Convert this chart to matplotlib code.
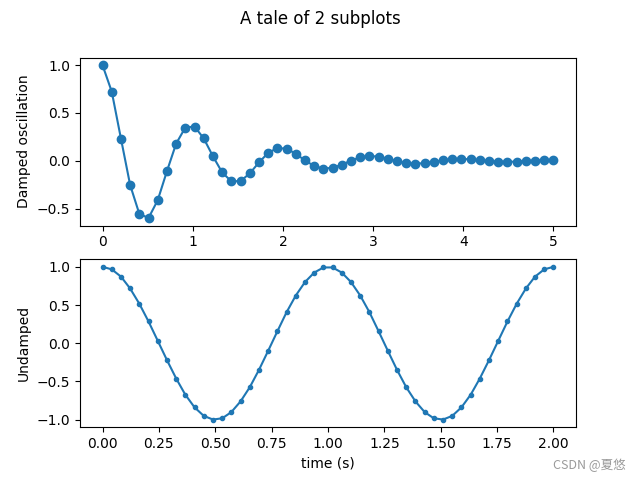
import matplotlib

matplotlib.use("Agg")
import matplotlib.pyplot as plt

# values (50 samples per panel)
x_damped = [
    0.000, 0.102, 0.204, 0.306, 0.408, 0.510, 0.612, 0.714, 0.816, 0.918,
    1.020, 1.122, 1.224, 1.327, 1.429, 1.531, 1.633, 1.735, 1.837, 1.939,
    2.041, 2.143, 2.245, 2.347, 2.449, 2.551, 2.653, 2.755, 2.857, 2.959,
    3.061, 3.163, 3.265, 3.367, 3.469, 3.571, 3.673, 3.776, 3.878, 3.980,
    4.082, 4.184, 4.286, 4.388, 4.490, 4.592, 4.694, 4.796, 4.898, 5.000,
]
y_damped = [
    1.000, 0.724, 0.232, -0.254, -0.557, -0.599, -0.413, -0.109, 0.179, 0.348,
    0.358, 0.234, 0.047, -0.123, -0.216, -0.212, -0.132, -0.017, 0.083, 0.133,
    0.126, 0.073, 0.003, -0.055, -0.082, -0.074, -0.041, 0.002, 0.036, 0.050,
    0.043, 0.022, -0.004, -0.023, -0.031, -0.025, -0.012, 0.004, 0.015, 0.019,
    0.015, 0.006, -0.003, -0.010, -0.011, -0.009, -0.003, 0.002, 0.006, 0.007,
]
x_undamped = [
    0.000, 0.041, 0.082, 0.122, 0.163, 0.204, 0.245, 0.286, 0.327, 0.367,
    0.408, 0.449, 0.490, 0.531, 0.571, 0.612, 0.653, 0.694, 0.735, 0.776,
    0.816, 0.857, 0.898, 0.939, 0.980, 1.020, 1.061, 1.102, 1.143, 1.184,
    1.224, 1.265, 1.306, 1.347, 1.388, 1.429, 1.469, 1.510, 1.551, 1.592,
    1.633, 1.673, 1.714, 1.755, 1.796, 1.837, 1.878, 1.918, 1.959, 2.000,
]
y_undamped = [
    1.000, 0.967, 0.871, 0.718, 0.518, 0.285, 0.032, -0.222, -0.463, -0.672,
    -0.838, -0.950, -0.998, -0.981, -0.901, -0.761, -0.575, -0.347, -0.096, 0.160,
    0.405, 0.624, 0.801, 0.925, 0.992, 0.992, 0.925, 0.801, 0.624, 0.405,
    0.160, -0.096, -0.347, -0.575, -0.761, -0.901, -0.981, -0.998, -0.950, -0.838,
    -0.672, -0.463, -0.222, 0.032, 0.285, 0.518, 0.718, 0.871, 0.967, 1.000,
]


def main() -> None:
    fig, (ax1, ax2) = plt.subplots(2, 1, figsize=(6.4, 4.8), dpi=100)
    fig.suptitle("A tale of 2 subplots")

    ax1.plot(x_damped, y_damped, "o-")
    ax1.set_ylabel("Damped oscillation")

    ax2.plot(x_undamped, y_undamped, ".-")
    ax2.set_xlabel("time (s)")
    ax2.set_ylabel("Undamped")

    fig.text(0.977, 0.031, "CSDN @夏悠", ha="right", va="center", fontsize=9,
             color="#9a9a9a", family=["Noto Sans CJK SC", "DejaVu Sans"])

    fig.savefig("out.png", dpi=100)
    plt.close(fig)


if __name__ == "__main__":
    main()
